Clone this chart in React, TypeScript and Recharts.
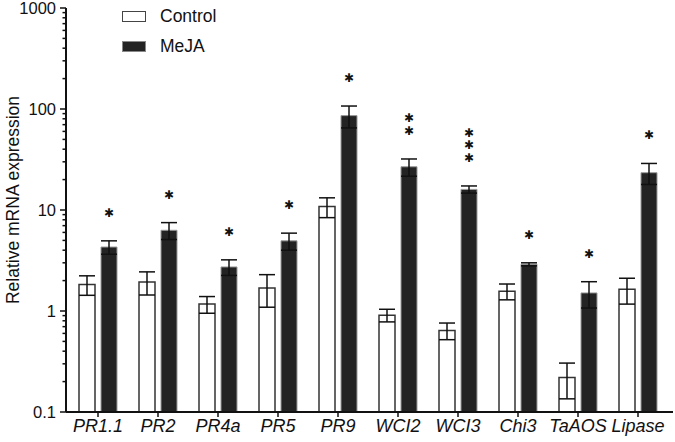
import {
  ComposedChart,
  Bar,
  Scatter,
  XAxis,
  YAxis,
  ErrorBar,
} from "recharts";

const genes = ["PR1.1", "PR2", "PR4a", "PR5", "PR9", "WCI2", "WCI3", "Chi3", "TaAOS", "Lipase"];
const controlMean = [1.83, 1.94, 1.17, 1.69, 10.8, 0.91, 0.64, 1.57, 0.22, 1.64];
const controlErr = [0.4, 0.5, 0.22, 0.6, 2.4, 0.13, 0.12, 0.28, 0.085, 0.47];
const mejaMean = [4.3, 6.3, 2.73, 4.95, 86, 26.8, 16.0, 2.9, 1.51, 23.4];
const mejaErr = [0.65, 1.2, 0.48, 0.95, 21, 5.2, 1.3, 0.1, 0.44, 5.5];
const stars = [1, 1, 1, 1, 1, 2, 3, 1, 1, 1];

const majorTicks = [0.1, 1, 10, 100, 1000];
const minorTicks = majorTicks
  .slice(0, -1)
  .flatMap((d) => [2, 3, 4, 5, 6, 7, 8, 9].map((k) => +(d * k).toPrecision(3)));
const allTicks = [...majorTicks, ...minorTicks].sort((a, b) => a - b);

const seriesNames = ["Control", "MeJA"];

const data = genes.map((gene, i) => ({
  gene,
  control: controlMean[i],
  controlErr: controlErr[i],
  meja: mejaMean[i],
  mejaErr: mejaErr[i],
  starAt: mejaMean[i] + mejaErr[i],
  stars: stars[i],
}));

const FONT = "'Liberation Sans', Arial, Helvetica, sans-serif";

const YTick = (props: any) => {
  const { x, y, payload } = props;
  const major = majorTicks.includes(payload.value);
  const axisX = x + 9;
  return (
    <g>
      <line
        x1={major ? axisX - 6 : axisX - 3.5}
        x2={axisX}
        y1={y}
        y2={y}
        stroke="#111"
        strokeWidth={1.5}
      />
      {major && (
        <text
          x={x - 1}
          y={y}
          textAnchor="end"
          dominantBaseline="central"
          fontSize={16.5}
          fontFamily={FONT}
          fill="#111"
        >
          {payload.value}
        </text>
      )}
    </g>
  );
};

const XTick = (props: any) => {
  const { x, y, payload } = props;
  return (
    <text
      x={x}
      y={y + 13}
      textAnchor="middle"
      fontSize={18}
      fontStyle="italic"
      fontFamily={FONT}
      fill="#111"
    >
      {payload.value}
    </text>
  );
};

const YLabel = (props: any) => {
  const vb = props.viewBox || { x: 0, y: 8, height: 404 };
  const cx = 13;
  const cy = vb.y + vb.height / 2 - 10;
  return (
    <text
      x={cx}
      y={cy}
      transform={`rotate(-90 ${cx} ${cy})`}
      textAnchor="middle"
      dominantBaseline="central"
      fontSize={17.5}
      fontFamily={FONT}
      fill="#111"
    >
      Relative mRNA expression
    </text>
  );
};

// asterisks stacked above the MeJA error bar
const StarShape = (props: any) => {
  const { cx, cy, payload } = props;
  if (cx == null || cy == null) return null;
  const step = 12.5;
  return (
    <g>
      {Array.from({ length: payload.stars }, (_, i) => (
        <text
          key={i}
          x={cx + 11}
          y={cy - 28 - i * step}
          textAnchor="middle"
          dominantBaseline="central"
          fontSize={12}
          fontFamily="'DejaVu Sans', sans-serif"
          fill="#111"
        >
          ✱
        </text>
      ))}
    </g>
  );
};

const App = () => {
  return (
    <div style={{ position: "absolute", left: 0, top: 0, width: 675, height: 442, background: "#fff" }}>
      <ComposedChart
        width={675}
        height={442}
        data={data}
        margin={{ top: 8, right: 2, left: 0, bottom: 0 }}
        barSize={16}
        barGap={6}
      >
        <XAxis
          dataKey="gene"
          axisLine={{ stroke: "#111", strokeWidth: 2 }}
          tickLine={{ stroke: "#111", strokeWidth: 1.5 }}
          tickSize={5}
          height={30}
          padding={{ left: 2, right: 5 }}
          tick={<XTick />}
          interval={0}
        />
        <YAxis
          scale="log"
          domain={[0.1, 1000]}
          allowDataOverflow
          ticks={allTicks}
          interval={0}
          width={66}
          tickSize={6}
          tickMargin={3}
          tickLine={false}
          axisLine={{ stroke: "#111", strokeWidth: 2 }}
          tick={<YTick />}
          label={<YLabel />}
        />
        <Bar
          dataKey="control"
          name={seriesNames[0]}
          fill="#ffffff"
          stroke="#333"
          strokeWidth={1.5}
          isAnimationActive={false}
        >
          <ErrorBar dataKey="controlErr" width={8} stroke="#111" strokeWidth={1.5} direction="y" />
        </Bar>
        <Bar
          dataKey="meja"
          name={seriesNames[1]}
          fill="#232323"
          stroke="#9a9a9a"
          strokeWidth={1}
          isAnimationActive={false}
        >
          <ErrorBar dataKey="mejaErr" width={8} stroke="#111" strokeWidth={1.5} direction="y" />
        </Bar>
        <Scatter dataKey="starAt" shape={<StarShape />} isAnimationActive={false} />
      </ComposedChart>
      <div
        style={{
          position: "absolute",
          left: 122,
          top: 2,
          fontFamily: FONT,
          fontSize: 17.5,
          color: "#111",
        }}
      >
        {seriesNames.map((name, i) => (
          <div key={name} style={{ display: "flex", alignItems: "center", height: 29.5 }}>
            <div
              style={{
                width: 22,
                height: 9,
                background: i === 0 ? "#fff" : "#232323",
                border: i === 0 ? "1px solid #444" : "1px solid #888",
                marginRight: 14,
              }}
            />
            <span>{name}</span>
          </div>
        ))}
      </div>
    </div>
  );
};

export default App;
